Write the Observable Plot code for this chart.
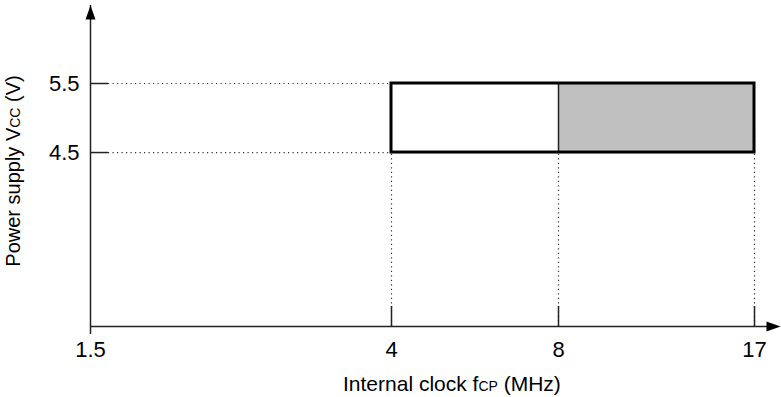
<!DOCTYPE html>
<html>
<head>
<meta charset="utf-8">
<script src="https://cdn.jsdelivr.net/npm/d3@7"></script>
<script src="https://cdn.jsdelivr.net/npm/@observablehq/plot@0.6"></script>
<style>
  html, body { margin: 0; padding: 0; background: #fff; }
  svg { font-family: "Liberation Sans", Arial, sans-serif; }
</style>
</head>
<body>
<div id="chart"></div>
<script>
// Data
const xTicks = [1.5, 4, 8, 17];
const yTicks = [4.5, 5.5];
const vMin = 4.5, vMax = 5.5;
const fMin = 4, fMid = 8, fMax = 17;
const regions = [
  {x1: 4, x2: 8, fill: "#ffffff"},
  {x1: 8, x2: 17, fill: "#c0c0c0"}
];
const xTitle = ["Internal clock f", "CP", " (MHz)"];
const yTitle = ["Power supply V", "CC", " (V)"];

const W = 781, H = 397;
const xDomain = [1.5, 4, 8, 17, 18.3];
const xRange = [90, 391, 558, 754, 780];
const yDomain = [1.98, 6.63];

const arrowHead = {
  draw(ctx) {
    ctx.moveTo(0, 0);
    ctx.lineTo(5, 14);
    ctx.lineTo(-5, 14);
    ctx.closePath();
  }
};

const chart = Plot.plot({
  width: W,
  height: H,
  marginLeft: 90,
  marginRight: 1,
  marginTop: 5,
  marginBottom: 71,
  style: {fontSize: "22px", fontFamily: "Liberation Sans, Arial, sans-serif", color: "#000"},
  x: {type: "linear", domain: xDomain, range: xRange},
  y: {domain: yDomain},
  marks: [
    // dotted guides
    Plot.ruleY(yTicks, {y: d => d, x1: xDomain[0], x2: fMin, insetLeft: 18, stroke: "#333", strokeWidth: 1.2, strokeDasharray: "1.2,3.3"}),
    Plot.ruleX([fMin, fMid, fMax], {x: d => d, y1: yDomain[0], y2: vMin, insetBottom: 20, stroke: "#333", strokeWidth: 1.2, strokeDasharray: "1.2,3.3"}),
    // regions
    Plot.rect(regions, {x1: "x1", x2: "x2", y1: vMin, y2: vMax, fill: "fill"}),
    Plot.ruleX([fMid], {x: d => d, y1: vMin, y2: vMax, stroke: "#222", strokeWidth: 1.5}),
    Plot.rect([{x1: fMin, x2: fMax}], {x1: "x1", x2: "x2", y1: vMin, y2: vMax, fill: "none", stroke: "#000", strokeWidth: 3}),
    // solid ticks
    Plot.tickY(yTicks, {y: d => d, insetRight: 780 - 108, stroke: "#222", strokeWidth: 1.5}),
    Plot.tickX([fMin, fMid, fMax], {x: d => d, insetTop: 301, stroke: "#222", strokeWidth: 1.5}),
    // axes lines
    Plot.ruleX([xDomain[0]], {x: d => d, y1: yDomain[0], y2: yDomain[1], insetTop: 8, stroke: "#222", strokeWidth: 1.5}),
    Plot.ruleY([yDomain[0]], {y: d => d, x1: xDomain[0], x2: xDomain[xDomain.length - 1], insetRight: 8, stroke: "#222", strokeWidth: 1.5}),
    Plot.dot([{x: xDomain[0], y: yDomain[1]}], {x: "x", y: "y", symbol: arrowHead, fill: "#000", stroke: "none"}),
    Plot.dot([{x: xDomain[xDomain.length - 1], y: yDomain[0]}], {x: "x", y: "y", symbol: arrowHead, rotate: 90, fill: "#000", stroke: "none"}),
    // tick labels
    Plot.axisX({ticks: xTicks, tickSize: 0, tickPadding: 15, tickFormat: d => String(d), label: null, fontSize: 22, fill: "#000"}),
    Plot.axisY({ticks: yTicks, tickSize: 0, tickPadding: 11, tickFormat: d => d.toFixed(1), label: null, fontSize: 22, fill: "#000"})
  ]
});

document.getElementById("chart").appendChild(chart);

const svg = d3.select(chart);
function addTitle(parts, transform, anchor, size, subSize) {
  const t = svg.append("text")
    .attr("transform", transform)
    .attr("text-anchor", anchor)
    .attr("font-size", size)
    .attr("fill", "#000")
    .attr("font-family", "Liberation Sans, Arial, sans-serif");
  t.append("tspan").text(parts[0]);
  t.append("tspan").attr("font-size", subSize).text(parts[1]);
  t.append("tspan").text(parts[2]);
}
addTitle(xTitle, "translate(343,391)", "start", 21, 14);
addTitle(yTitle, "translate(20,171) rotate(-90)", "middle", 20, 14);
</script>
</body>
</html>
